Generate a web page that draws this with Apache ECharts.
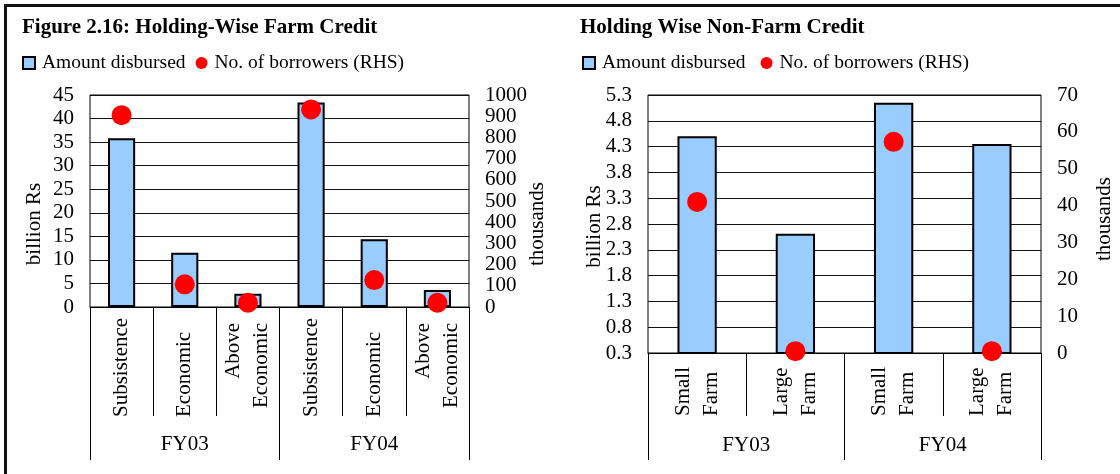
<!DOCTYPE html>
<html><head><meta charset="utf-8">
<script src="https://cdn.jsdelivr.net/npm/echarts@6/dist/echarts.min.js"></script>
<style>html,body{margin:0;padding:0;background:#fff}#c{width:1120px;height:474px}</style>
</head><body><div id="c"></div>
<script>
// ---- Data: left panel (Holding-wise farm credit) ----
const farmCategories = ['Subsistence', 'Economic', 'Above\nEconomic', 'Subsistence', 'Economic', 'Above\nEconomic'];
const farmYears = ['FY03', 'FY04'];
const farmAmount = [35.8, 11.5, 2.8, 43.4, 14.4, 3.6];          // billion Rs
const farmBorrowers = [905, 107, 20, 932, 127, 20];             // thousands (RHS)
const farmLeftAxis = [0, 45, 5];      // min, max, interval
const farmRightAxis = [0, 1000, 100];

// ---- Data: right panel (Holding-wise non-farm credit) ----
const nonFarmCategories = ['Small\nFarm', 'Large\nFarm', 'Small\nFarm', 'Large\nFarm'];
const nonFarmYears = ['FY03', 'FY04'];
const nonFarmAmount = [4.5, 2.61, 5.15, 4.35];                  // billion Rs
const nonFarmBorrowers = [41, 0.5, 57.3, 0.5];                  // thousands (RHS)
const nonFarmLeftAxis = [0.3, 5.3, 0.5];
const nonFarmRightAxis = [0, 70, 10];

const FONT = 'Liberation Serif';
const BLUE = '#99CCFF';
const RED = '#FF0000';

function valueAxis(grid, pos, ax, name, namePad, gap, split) {
  return {
    type: 'value', gridIndex: grid, position: pos,
    min: ax[0], max: ax[1], interval: ax[2],
    name: name, nameLocation: 'middle', nameGap: gap, nameRotate: 90, nameMoveOverlap: false,
    nameTextStyle: { fontFamily: FONT, fontSize: 21, color: '#000', padding: namePad },
    axisLine: { show: false }, axisTick: { show: false },
    axisLabel: { fontFamily: FONT, fontSize: 21, color: '#000', margin: 16, formatter: v => String(v) },
    splitLine: { show: split, lineStyle: { color: '#111', width: 1 } }
  };
}
const richR = { r: { align: 'right', padding: [0, 0, 0, 9], fontFamily: FONT, fontSize: 21, lineHeight: 28, color: '#000' } };
function catAxis(grid, data, tickLen, margin) {
  return {
    type: 'category', gridIndex: grid, position: 'bottom', data: data,
    axisLine: { show: true, lineStyle: { color: '#000', width: 1 } },
    axisTick: { show: true, length: tickLen, lineStyle: { color: '#000', width: 1 } },
    axisLabel: {
      rotate: 90, align: 'left', verticalAlign: 'middle', margin: margin, interval: 0,
      fontFamily: FONT, fontSize: 21, lineHeight: 28, color: '#000', rich: richR,
      formatter: v => v.indexOf('Above') === 0 ? v.split('\n').map(s => '{r|' + s + '}').join('\n') : v
    },
    splitLine: { show: false }
  };
}
function groupAxis(grid, data, tickLen, margin) {
  return {
    type: 'category', gridIndex: grid, position: 'bottom', data: data,
    axisLine: { show: false },
    axisTick: { show: true, length: tickLen, lineStyle: { color: '#000', width: 1 } },
    axisLabel: { margin: margin, verticalAlign: 'middle', fontFamily: FONT, fontSize: 21, color: '#000', interval: 0 },
    splitLine: { show: false }
  };
}
function legendFor(left, gap) {
  return {
    left: left, top: 53, padding: 0, itemWidth: 12, itemHeight: 12, itemGap: gap,
    selectedMode: false,
    textStyle: { fontFamily: FONT, fontSize: 19.5, color: '#000', padding: [0, 0, 0, 2] },
    data: [{ name: 'Amount disbursed', icon: 'rect' }, { name: 'No. of borrowers (RHS)', icon: 'circle' }]
  };
}

const chart = echarts.init(document.getElementById('c'), null, { renderer: 'canvas' });
chart.setOption({
  animation: false,
  backgroundColor: '#fff',
  textStyle: { fontFamily: FONT, color: '#000' },
  title: [
    { text: 'Figure 2.16: Holding-Wise Farm Credit', left: 22, top: 17, padding: 0,
      textStyle: { fontFamily: FONT, fontSize: 21, fontWeight: 'bold', color: '#000' } },
    { text: 'Holding Wise Non-Farm Credit', left: 580, top: 17, padding: 0,
      textStyle: { fontFamily: FONT, fontSize: 21, fontWeight: 'bold', color: '#000' } }
  ],
  legend: [legendFor(22, 10), legendFor(582, 15)],
  graphic: [
    { type: 'line', shape: { x1: 4, y1: 5.5, x2: 1120, y2: 5.5 }, style: { stroke: '#111', lineWidth: 3 } },
    { type: 'line', shape: { x1: 5.5, y1: 4, x2: 5.5, y2: 474 }, style: { stroke: '#111', lineWidth: 3 } }
  ],
  grid: [
    { left: 90, top: 95, width: 379, height: 212, show: true, borderColor: '#000', borderWidth: 1, backgroundColor: 'transparent', outerBoundsMode: 'none' },
    { left: 648, top: 95, width: 393, height: 258, show: true, borderColor: '#000', borderWidth: 1, backgroundColor: 'transparent', outerBoundsMode: 'none' }
  ],
  xAxis: [
    catAxis(0, farmCategories, 109, 110),
    groupAxis(0, farmYears, 153, 137),
    catAxis(1, nonFarmCategories, 63, 63),
    groupAxis(1, nonFarmYears, 107, 92)
  ],
  yAxis: [
    valueAxis(0, 'left', farmLeftAxis, 'billion Rs', [0, 46, 0, 0], 45, true),
    valueAxis(0, 'right', farmRightAxis, 'thousands', [0, 46, 0, 0], 58, false),
    valueAxis(1, 'left', nonFarmLeftAxis, 'billion Rs', [0, 5, 0, 0], 43, true),
    valueAxis(1, 'right', nonFarmRightAxis, 'thousands', [0, 0, 0, 10], 53, false)
  ],
  series: [
    { type: 'bar', name: 'Amount disbursed', xAxisIndex: 0, yAxisIndex: 0, data: farmAmount, barWidth: '43%',
      itemStyle: { color: BLUE, borderColor: '#000', borderWidth: 2 } },
    { type: 'scatter', name: 'No. of borrowers (RHS)', xAxisIndex: 0, yAxisIndex: 1, data: farmBorrowers,
      symbolSize: 20, clip: false, itemStyle: { color: RED, opacity: 1 } },
    { type: 'bar', name: 'Amount disbursed', xAxisIndex: 2, yAxisIndex: 2, data: nonFarmAmount, barWidth: '40%',
      itemStyle: { color: BLUE, borderColor: '#000', borderWidth: 2 } },
    { type: 'scatter', name: 'No. of borrowers (RHS)', xAxisIndex: 2, yAxisIndex: 3, data: nonFarmBorrowers,
      symbolSize: 20, clip: false, itemStyle: { color: RED, opacity: 1 } }
  ]
});
</script>
</body></html>
